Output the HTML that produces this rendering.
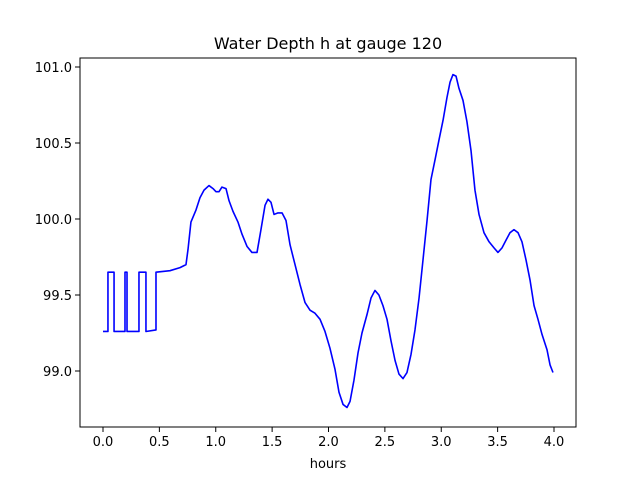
<!DOCTYPE html>
<html><head><meta charset="utf-8"><style>
body{margin:0;background:#fff;}
svg{display:block;font-family:"DejaVu Sans","Liberation Sans",sans-serif;}
</style></head><body>
<svg width="640" height="480">
<rect width="640" height="480" fill="#fff"/>
<text x="328" y="49" text-anchor="middle" font-size="16">Water Depth h at gauge 120</text>
<g id="plot"></g>
<rect x="80" y="58" width="496" height="369" fill="none" stroke="#000" stroke-width="1"/>
<text x="328" y="468" text-anchor="middle" font-size="13">hours</text>
</svg>
<script>
const hours=[0,0.044,0.044,0.098,0.098,0.195,0.195,0.213,0.213,0.319,0.319,0.381,0.381,0.47,0.47,0.594,0.683,0.736,0.754,0.780,0.825,0.860,0.896,0.940,0.976,1.002,1.029,1.055,1.091,1.118,1.153,1.197,1.233,1.277,1.321,1.366,1.401,1.437,1.463,1.490,1.517,1.552,1.588,1.623,1.659,1.703,1.747,1.792,1.836,1.880,1.925,1.969,2.013,2.058,2.093,2.129,2.164,2.191,2.226,2.262,2.297,2.341,2.377,2.412,2.447,2.483,2.519,2.554,2.590,2.625,2.661,2.696,2.732,2.767,2.803,2.838,2.874,2.909,2.945,2.980,3.016,3.051,3.078,3.104,3.131,3.157,3.193,3.228,3.264,3.299,3.335,3.379,3.424,3.468,3.503,3.539,3.574,3.610,3.645,3.681,3.716,3.752,3.787,3.823,3.858,3.894,3.938,3.965,3.991];
const depth=[99.26,99.26,99.65,99.65,99.26,99.26,99.65,99.65,99.26,99.26,99.65,99.65,99.26,99.27,99.65,99.66,99.68,99.70,99.80,99.98,100.06,100.14,100.19,100.22,100.20,100.18,100.18,100.21,100.20,100.12,100.05,99.98,99.90,99.82,99.78,99.78,99.93,100.09,100.13,100.11,100.03,100.04,100.04,99.99,99.83,99.70,99.57,99.45,99.40,99.38,99.34,99.26,99.15,99.01,98.86,98.78,98.76,98.80,98.94,99.12,99.25,99.37,99.48,99.53,99.50,99.43,99.34,99.20,99.07,98.98,98.95,98.99,99.11,99.27,99.48,99.73,99.99,100.26,100.39,100.52,100.65,100.80,100.90,100.95,100.94,100.86,100.78,100.64,100.45,100.19,100.03,99.91,99.85,99.81,99.78,99.81,99.86,99.91,99.93,99.91,99.85,99.73,99.60,99.43,99.34,99.24,99.14,99.04,98.99];
const xTicks=[0,0.5,1,1.5,2,2.5,3,3.5,4];
const xTickLabels=["0.0","0.5","1.0","1.5","2.0","2.5","3.0","3.5","4.0"];
const yTicks=[99,99.5,100,100.5,101];
const yTickLabels=["99.0","99.5","100.0","100.5","101.0"];
const X=v=>103+v*112.75, Y=v=>67+(101-v)*152;
const NS="http://www.w3.org/2000/svg", g=document.getElementById('plot');
xTicks.forEach((t,i)=>{
  const l=document.createElementNS(NS,'line');
  l.setAttribute('x1',X(t));l.setAttribute('x2',X(t));l.setAttribute('y1',427);l.setAttribute('y2',432);l.setAttribute('stroke','#000');
  
  
  g.appendChild(l);
  const s=document.createElementNS(NS,'text');
  s.setAttribute('x',X(t));s.setAttribute('y',446);s.setAttribute('text-anchor','middle');s.setAttribute('font-size','13');
  s.textContent=xTickLabels[i];
  
  
  g.appendChild(s);
});
yTicks.forEach((t,i)=>{
  const l=document.createElementNS(NS,'line');
  l.setAttribute('x1',75);l.setAttribute('x2',80);l.setAttribute('y1',Y(t));l.setAttribute('y2',Y(t));l.setAttribute('stroke','#000');
  
  
  g.appendChild(l);
  const s=document.createElementNS(NS,'text');
  s.setAttribute('x',72);s.setAttribute('y',Y(t)+5);s.setAttribute('text-anchor','end');s.setAttribute('font-size','13');
  s.textContent=yTickLabels[i];
  
  
  g.appendChild(s);
});
const p=document.createElementNS(NS,'polyline');
p.setAttribute('points',hours.map((h,i)=>X(h)+','+Y(depth[i])).join(' '));
p.setAttribute('fill','none');p.setAttribute('stroke','#0000ff');p.setAttribute('stroke-width','1.6');p.setAttribute('stroke-linejoin','round');


g.appendChild(p);
</script>
</body></html>
